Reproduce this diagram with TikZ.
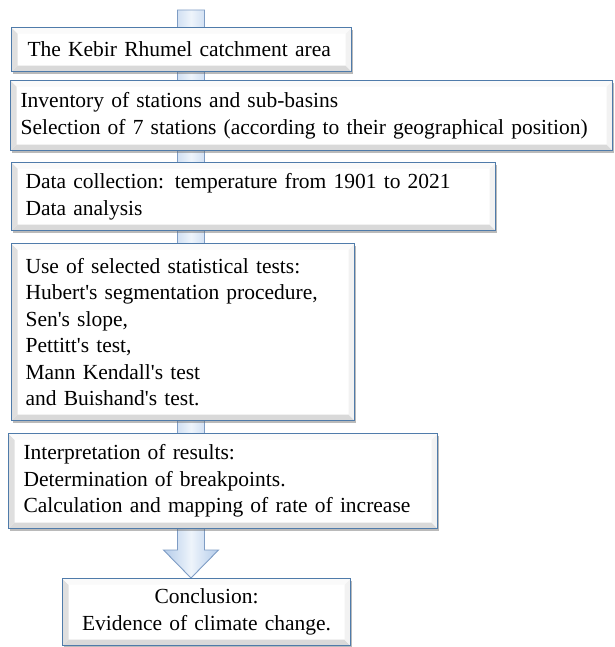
\documentclass[tikz,border=0pt]{standalone}
\usepackage{fontspec}
\setmainfont{Liberation Serif}
\usetikzlibrary{calc,shadows}
\definecolor{boxblue}{HTML}{4F7BAA}
\definecolor{arrowline}{HTML}{7E9CC4}
\definecolor{arrowtop}{HTML}{EEF4FB}
\definecolor{arrowbot}{HTML}{B4CCEA}
\newcommand{\q}{\textquotesingle}
\tikzset{
  bevel/.style={path picture={
    \coordinate (pSW) at (path picture bounding box.south west);
    \coordinate (pNE) at (path picture bounding box.north east);
    \coordinate (pNW) at (path picture bounding box.north west);
    \coordinate (pSE) at (path picture bounding box.south east);
    \fill[gray!25] (pSW) -- (pNW) -- ($(pNW)+(6pt,-6pt)$) -- ($(pSW)+(6pt,6pt)$) -- cycle;
    \fill[gray!30] (pSW) -- (pSE) -- ($(pSE)+(-6pt,6pt)$) -- ($(pSW)+(6pt,6pt)$) -- cycle;
    \fill[gray!10] (pSE) -- (pNE) -- ($(pNE)+(-6pt,-6pt)$) -- ($(pSE)+(-6pt,6pt)$) -- cycle;
    \fill[gray!4] (pNW) -- (pNE) -- ($(pNE)+(-6pt,-6pt)$) -- ($(pNW)+(6pt,-6pt)$) -- cycle;
  }},
  box/.style={draw=boxblue, line width=1.1pt, fill=white, bevel,
    drop shadow={shadow xshift=1.5pt, shadow yshift=-2.5pt, opacity=0.45, fill=black!60},
    anchor=north west, align=left, inner xsep=14pt, inner ysep=0pt,
    font=\fontsize{21.5}{26.5}\selectfont},
  bigarrow/.style={draw=arrowline, line width=0.9pt, left color=arrowbot, right color=arrowbot, middle color=arrowtop},
}
\begin{document}
\begin{tikzpicture}[x=1pt,y=-1pt]
\useasboundingbox (0,0) rectangle (614,647);
\coordinate (top) at (191,10);
\coordinate (tip) at (191,578);
\draw[bigarrow] ($(top)+(-13.5,0)$) -- ($(top)+(13.5,0)$) -- ($(tip)+(13.5,-28)$) -- ($(tip)+(27.5,-28)$) -- (tip)
  -- ($(tip)+(-27.5,-28)$) -- ($(tip)+(-13.5,-28)$) -- cycle;
\node[box, minimum width=340pt, minimum height=44pt, text width=308pt, inner xsep=16pt] (b1) at (11,27) {The Kebir Rhumel catchment area};
\node[box, minimum width=602pt, minimum height=70pt, text width=582pt, inner xsep=10pt] (b2) at (10,80) {Inventory of stations and sub-basins\\Selection of 7 stations (according to their geographical position)};
\node[box, minimum width=484pt, minimum height=68pt, text width=456pt] (b3) at (11,162) {Data collection: temperature from 1901 to 2021\\Data analysis};
\node[box, minimum width=343pt, minimum height=177pt, text width=315pt] (b4) at (11,243) {Use of selected statistical tests:\\Hubert\q s segmentation procedure,\\Sen\q s slope,\\Pettitt\q s test,\\Mann Kendall\q s test\\and Buishand\q s test.};
\node[box, minimum width=429pt, minimum height=95pt, text width=399pt, inner xsep=15pt] (b5) at (8,433) {Interpretation of results:\\Determination of breakpoints.\\Calculation and mapping of rate of increase};
\node[box, minimum width=288pt, minimum height=67pt, text width=260pt, align=center] (b6) at (62,578) {Conclusion:\\Evidence of climate change.};
\end{tikzpicture}
\end{document}
